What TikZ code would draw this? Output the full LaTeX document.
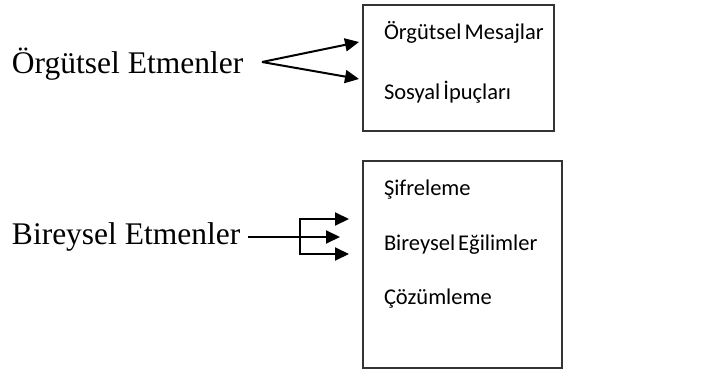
\documentclass[tikz,border=0pt]{standalone}
\usepackage{fontspec}
\setmainfont{Liberation Serif}
\newfontfamily\calibri[WordSpace=0.6]{Carlito}
\usetikzlibrary{arrows.meta}
\usetikzlibrary{positioning}

\begin{document}
\begin{tikzpicture}
[x=1pt,y=-1pt,>={Triangle[length=14pt,width=13pt]},line width=2pt,%
  every node/.style={inner sep=0pt},
  factor/.style={font=\fontsize{31.5}{31.5}\selectfont,anchor=base west},
  item/.style={font=\calibri\fontsize{22.5}{22.5}\selectfont,anchor=base west},
  group/.style={draw=black!80,line width=2pt,anchor=north west}]
\useasboundingbox (0,0) rectangle (723,371);
%% factors
\node[factor] (oe) at (11,74) {Örgütsel Etmenler};
\node[factor] (be) at (11,245) {Bireysel Etmenler};
%% boxes
\node[group,minimum width=191pt,minimum height=126pt] (g1) at (362,4) {};
\node[group,minimum width=199pt,minimum height=207pt] (g2) at (362,160) {};
%% items
\node[item] (om) at (383,40) {Örgütsel Mesajlar};
\node[item] (si) at (383,100) {Sosyal İpuçları};
\node[item] (sf) at (383,196) {Şifreleme};
\node[item] (bg) at (383,251) {Bireysel Eğilimler};
\node[item] (cz) at (383,305) {Çözümleme};
%% arrow ends
\coordinate (oefork) at (262,62);
\coordinate (omtip) at (359,42);
\coordinate (sitip) at (359,79);
\coordinate (bestart) at (248,237);
\coordinate (befork) at (300,237);
\coordinate (betop) at (349,219);
\coordinate (bemid) at (340,237);
\coordinate (bebot) at (349,254);
%% arrows
\draw[->] (oefork) -- (omtip);
\draw[->] (oefork) -- (sitip);
\draw[->] (bestart) -- (bemid);
\draw[->] (befork) |- (betop);
\draw[->] (befork) |- (bebot);
\end{tikzpicture}
\end{document}
